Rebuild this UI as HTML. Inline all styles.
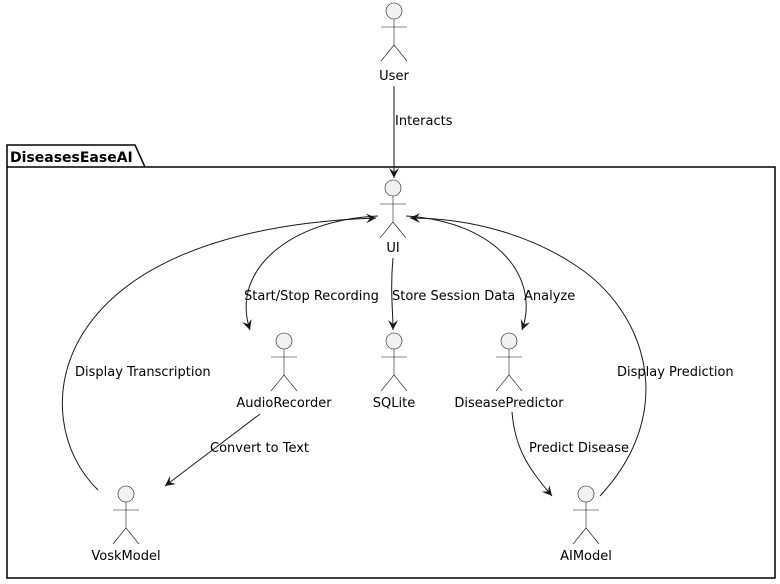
<!DOCTYPE html>
<html><head><meta charset="utf-8"><style>
html,body{margin:0;padding:0;background:#fff}
svg{display:block}
text{font-family:"DejaVu Sans","Liberation Sans",sans-serif;font-size:13px;fill:#000}
</style></head><body>
<svg width="780" height="584" viewBox="0 0 780 584">
<defs>
<g id="act" stroke="#181818" stroke-width="0.6" fill="none">
<circle cx="0" cy="8" r="8" fill="#f1f1f1"/>
<line x1="0" y1="16" x2="0" y2="42"/>
<line x1="-13" y1="24" x2="13" y2="24"/>
<line x1="0" y1="42" x2="-13" y2="58"/>
<line x1="0" y1="42" x2="13" y2="58"/>
</g>
<marker id="ar" markerWidth="12" markerHeight="10" refX="10" refY="5" orient="auto" markerUnits="userSpaceOnUse">
<path d="M0,0 L10,5 L0,10 L4,5 Z" fill="#181818"/>
</marker>
</defs>
<path d="M7,167 L7,145 L135,145 L145,167 L775,167 L775,578 L7,578 Z" fill="none" stroke="#000" stroke-width="1.5"/>
<line x1="7" y1="167" x2="145" y2="167" stroke="#000" stroke-width="1.5"/>
<text x="10" y="162" style="font-weight:bold;font-size:14px">DiseasesEaseAI</text>

<use href="#act" x="394" y="3"/>
<text x="394" y="80" text-anchor="middle">User</text>
<use href="#act" x="393" y="180"/>
<text x="393" y="252" text-anchor="middle">UI</text>
<use href="#act" x="284" y="333"/>
<text x="284" y="407" text-anchor="middle">AudioRecorder</text>
<use href="#act" x="394" y="333"/>
<text x="394" y="407" text-anchor="middle">SQLite</text>
<use href="#act" x="509" y="333"/>
<text x="509" y="407" text-anchor="middle">DiseasePredictor</text>
<use href="#act" x="126" y="486"/>
<text x="126" y="560" text-anchor="middle">VoskModel</text>
<use href="#act" x="586" y="486"/>
<text x="586" y="560" text-anchor="middle">AIModel</text>

<g stroke="#181818" stroke-width="1" fill="none" marker-end="url(#ar)">
<line x1="394" y1="86" x2="394" y2="178"/>
<path d="M378,216 C290,220 230,270 250,330"/>
<path d="M393,258 C390,290 393,310 393,330"/>
<path d="M406,216 C500,222 540,280 522,330"/>
<path d="M260,414 L165,486"/>
<path d="M512,412 C515,450 530,470 552,496"/>
<path d="M98,490 C25,420 40,230 376,218"/>
<path d="M600,496 C680,410 645,310 575,265 C530,235 470,218 410,218"/>
</g>
<text x="395" y="125">Interacts</text>
<text x="244" y="300">Start/Stop Recording</text>
<text x="392" y="300">Store Session Data</text>
<text x="524" y="300">Analyze</text>
<text x="75" y="376">Display Transcription</text>
<text x="617" y="376">Display Prediction</text>
<text x="210" y="452">Convert to Text</text>
<text x="529" y="452">Predict Disease</text>
</svg>
</body></html>
